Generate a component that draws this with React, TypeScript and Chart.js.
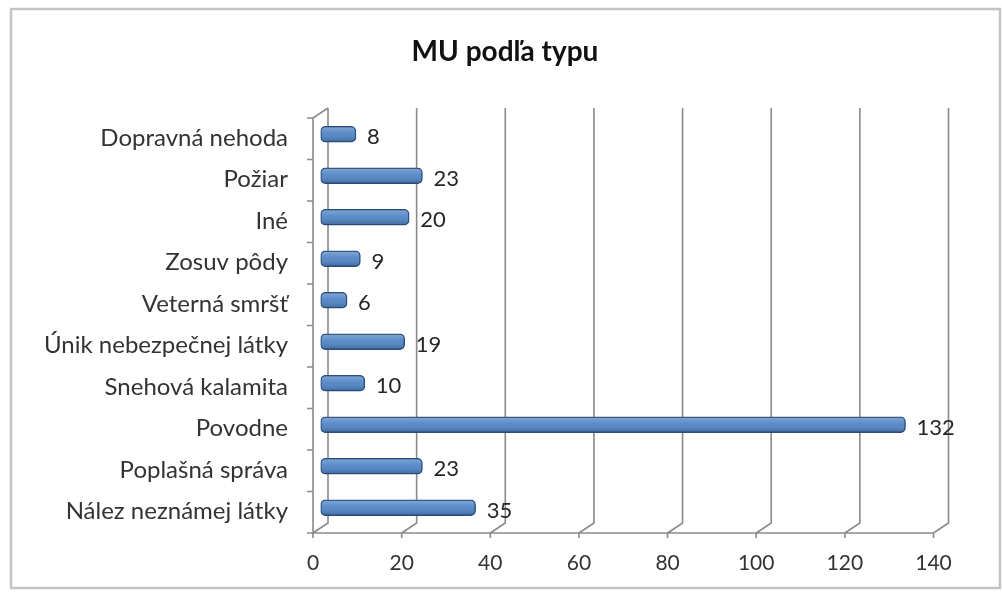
import React, { useEffect, useRef } from "react";
import { Chart, registerables } from "chart.js";

Chart.register(...registerables);

const categories = [
  "Dopravná nehoda",
  "Požiar",
  "Iné",
  "Zosuv pôdy",
  "Veterná smršť",
  "Únik nebezpečnej látky",
  "Snehová kalamita",
  "Povodne",
  "Poplašná správa",
  "Nález neznámej látky",
];
const values = [8, 23, 20, 9, 6, 19, 10, 132, 23, 35];
const xMin = 0;
const xMax = 140;
const xStep = 20;
const titleText = "MU podľa typu";

const FONT = "Lato, 'Open Sans', sans-serif";
const FDX = -7.5, FDY = 4.5, BDX = 7.5, BDY = -5.5;

const framePlugin = {
  id: "frame",
  beforeDraw(chart: any) {
    const { ctx } = chart;
    ctx.save();
    ctx.fillStyle = "#ffffff";
    ctx.fillRect(0, 0, chart.width, chart.height);
    ctx.strokeStyle = "#c4c4c4";
    ctx.lineWidth = 2.5;
    ctx.strokeRect(11, 9, 989, 579);
    ctx.restore();
  },
};

const wallsPlugin = {
  id: "walls",
  beforeDatasetsDraw(chart: any) {
    const { ctx, chartArea: a } = chart;
    const x = chart.scales.x;
    const y = chart.scales.y;
    const bTop = a.top + BDY, bBot = a.bottom + BDY, fTop = a.top + FDY, fBot = a.bottom + FDY;
    ctx.save();
    ctx.strokeStyle = "#8a8a8a";
    ctx.lineWidth = 1.6;
    ctx.beginPath();
    x.ticks.forEach((t: any) => {
      const p = x.getPixelForValue(t.value);
      ctx.moveTo(p + BDX, bTop);
      ctx.lineTo(p + BDX, bBot);
      ctx.lineTo(p + FDX, fBot);
      ctx.moveTo(p + FDX, fBot);
      ctx.lineTo(p + FDX, fBot + 5);
    });
    const p0 = x.getPixelForValue(xMin);
    const pN = x.getPixelForValue(xMax);
    ctx.moveTo(p0 + FDX, fBot);
    ctx.lineTo(pN + FDX, fBot);
    ctx.moveTo(p0 + FDX, fBot);
    ctx.lineTo(p0 + FDX, fTop);
    ctx.lineTo(p0 + BDX, bTop);
    for (let i = 0; i <= categories.length; i++) {
      const yy = y.getPixelForValue(i - 0.5) + FDY;
      ctx.moveTo(p0 + FDX - 6, yy);
      ctx.lineTo(p0 + FDX, yy);
    }
    ctx.stroke();
    ctx.restore();
  },
  afterDatasetsDraw(chart: any) {
    const { ctx } = chart;
    const meta = chart.getDatasetMeta(0);
    ctx.save();
    meta.data.forEach((el: any, i: number) => {
      const { x, y, base, height } = el.getProps(["x", "y", "base", "height"], true);
      const top = y - height / 2;
      const g = ctx.createLinearGradient(0, top, 0, top + height);
      g.addColorStop(0, "rgba(255,255,255,0.30)");
      g.addColorStop(0.45, "rgba(255,255,255,0.08)");
      g.addColorStop(1, "rgba(0,0,0,0.22)");
      ctx.fillStyle = g;
      ctx.beginPath();
      if (ctx.roundRect) ctx.roundRect(base + 1, top + 1, x - base - 2, height - 2, 4);
      else ctx.rect(base + 1, top + 1, x - base - 2, height - 2);
      ctx.fill();
      ctx.fillStyle = "#262626";
      ctx.font = `22px ${FONT}`;
      ctx.textAlign = "left";
      ctx.textBaseline = "middle";
      ctx.fillText(String(values[i]), x + 11, y + 3);
    });
    ctx.restore();
  },
};

export default function App() {
  const ref = useRef<HTMLCanvasElement | null>(null);
  useEffect(() => {
    if (!ref.current) return;
    const chart = new Chart(ref.current, {
      type: "bar",
      data: {
        labels: categories,
        datasets: [
          {
            data: values,
            backgroundColor: "#4d82c4",
            borderColor: "#2a4d7c",
            borderWidth: 1.5,
            borderRadius: 5,
            borderSkipped: false,
            barThickness: 16,
          },
        ],
      },
      options: {
        indexAxis: "y",
        animation: false,
        responsive: false,
        maintainAspectRatio: false,
        layout: { padding: { left: 10, right: 2, top: 0, bottom: 0 } },
        plugins: {
          legend: { display: false },
          tooltip: { enabled: false },
          title: {
            display: true,
            text: titleText,
            color: "#111111",
            font: { family: FONT, size: 28, weight: "bold" },
            padding: { top: 35.2, bottom: 44.7 },
          },
        },
        scales: {
          x: {
            type: "linear",
            min: xMin,
            max: xMax,
            ticks: {
              stepSize: xStep,
              color: "#333333",
              font: { family: FONT, size: 21 },
              padding: 22,
              labelOffset: FDX,
            },
            grid: { display: false, drawTicks: false },
            border: { display: false },
            afterFit: (s: any) => {
              s.height = 601 - 528.5;
            },
          },
          y: {
            type: "category",
            ticks: {
              color: "#333333",
              font: { family: FONT, size: 24 },
              padding: 32.5,
              labelOffset: 4,
            },
            grid: { display: false, drawTicks: false },
            border: { display: false },
            afterFit: (s: any) => {
              s.width = 310.5;
            },
          },
          y2: {
            type: "linear",
            position: "right",
            ticks: { display: false },
            grid: { display: false, drawTicks: false },
            border: { display: false },
            afterFit: (s: any) => {
              s.width = 59;
            },
          },
        },
      },
      plugins: [framePlugin, wallsPlugin],
    });
    return () => chart.destroy();
  }, []);
  return (
    <div style={{ position: "fixed", left: 0, top: 0, width: 1002, height: 601 }}>
      <canvas ref={ref} width={1002} height={601} />
    </div>
  );
}
